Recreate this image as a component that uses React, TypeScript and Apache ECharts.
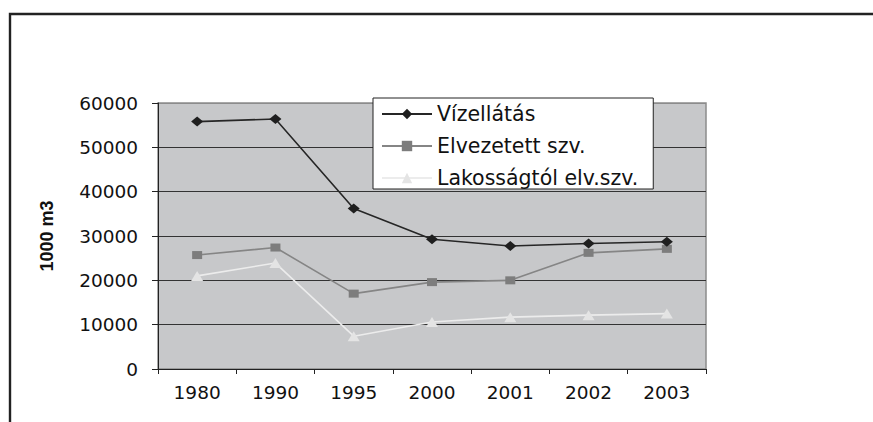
import React, { useEffect, useRef } from "react";
import * as echarts from "echarts";

const categories = ["1980", "1990", "1995", "2000", "2001", "2002", "2003"];
const vizellatas = [55800, 56400, 36200, 29250, 27750, 28300, 28700];
const elvezetett = [25700, 27400, 17000, 19600, 20000, 26200, 27100];
const lakossagtol = [21000, 23900, 7400, 10600, 11700, 12150, 12500];
const seriesNames = ["Vízellátás", "Elvezetett szv.", "Lakosságtól elv.szv."];
const yTicks = { min: 0, max: 60000, interval: 10000 };
const yName = "1000 m3";

export default function App() {
  const ref = useRef<HTMLDivElement>(null);
  useEffect(() => {
    if (!ref.current) return;
    const chart = echarts.init(ref.current, null, { renderer: "svg" });
    const font = "DejaVu Sans";
    chart.setOption({
      animation: false,
      backgroundColor: "#ffffff",
      graphic: [
        {
          type: "rect",
          shape: { x: 10, y: 14, width: 880, height: 430 },
          style: { fill: "none", stroke: "#222", lineWidth: 2.4 },
          z: 100,
        },
      ],
      grid: {
        left: 158,
        top: 103,
        width: 548,
        height: 266,
        show: true,
        backgroundColor: "#c7c8ca",
        borderColor: "#8c8c8c",
        borderWidth: 1.5,
      },
      legend: {
        orient: "vertical",
        left: 373,
        top: 98,
        width: 280,
        backgroundColor: "#ffffff",
        borderColor: "#222",
        borderWidth: 1,
        padding: [5, 15, 0, 8],
        itemWidth: 50,
        itemHeight: 13,
        itemGap: 10,
        textStyle: {
          fontFamily: font,
          fontSize: 20.5,
          color: "#111",
          lineHeight: 22,
        },
        data: seriesNames,
      },
      xAxis: {
        type: "category",
        data: categories,
        boundaryGap: true,
        axisLine: { show: true, lineStyle: { color: "#222", width: 1 } },
        axisTick: { show: true, length: 5, lineStyle: { color: "#222" } },
        axisLabel: {
          fontFamily: font,
          fontSize: 18.5,
          color: "#111",
          margin: 14,
        },
        splitLine: { show: false },
      },
      yAxis: {
        type: "value",
        min: yTicks.min,
        max: yTicks.max,
        interval: yTicks.interval,
        name: yName,
        nameLocation: "middle",
        nameGap: 102,
        nameRotate: 90,
        nameTextStyle: {
          fontFamily: "Liberation Sans",
          fontWeight: "bold",
          fontSize: 18,
          color: "#111",
        },
        axisLine: { show: true, lineStyle: { color: "#222", width: 1 } },
        axisTick: { show: true, length: 6, lineStyle: { color: "#222" } },
        axisLabel: {
          fontFamily: font,
          fontSize: 18.5,
          color: "#111",
          margin: 20,
          formatter: (v: number) => String(v),
        },
        splitLine: {
          show: true,
          lineStyle: {
            color: ["#333", "#333", "#333", "#333", "#333", "#333", "#8c8c8c"],
            width: 1.2,
          },
        },
      },
      series: [
        {
          name: seriesNames[0],
          type: "line",
          data: vizellatas,
          symbol: "diamond",
          symbolSize: [12, 10],
          itemStyle: { color: "#1f1f1f" },
          lineStyle: { color: "#262626", width: 1.6 },
          z: 5,
        },
        {
          name: seriesNames[1],
          type: "line",
          data: elvezetett,
          symbol: "rect",
          symbolSize: [10, 8],
          itemStyle: { color: "#7d7d7d" },
          lineStyle: { color: "#858585", width: 1.6 },
          z: 4,
        },
        {
          name: seriesNames[2],
          type: "line",
          data: lakossagtol,
          symbol: "triangle",
          symbolSize: [12, 10],
          itemStyle: { color: "#e4e4e4" },
          lineStyle: { color: "#ececec", width: 1.6 },
          z: 3,
        },
      ],
    });
    return () => chart.dispose();
  }, []);
  return (
    <div
      ref={ref}
      style={{ position: "fixed", left: 0, top: 0, width: 873, height: 422 }}
    />
  );
}
